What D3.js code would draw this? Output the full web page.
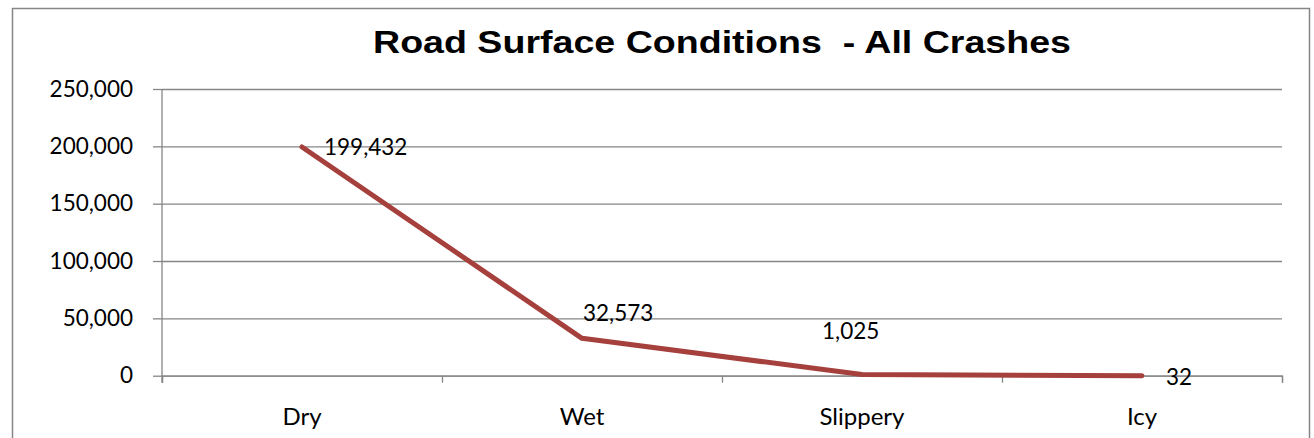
<!DOCTYPE html>
<html>
<head>
<meta charset="utf-8">
<script src="https://cdn.jsdelivr.net/npm/d3@7"></script>
<style>
  html, body { margin: 0; padding: 0; background: #fff; }
  svg { display: block; }
</style>
</head>
<body>
<svg id="chart" width="1314" height="438"></svg>
<script>
const categories = ["Dry", "Wet", "Slippery", "Icy"];
const crashes = [199432, 32573, 1025, 32];
const yTicks = [0, 50000, 100000, 150000, 200000, 250000];
const titleText = "Road Surface Conditions  - All Crashes";

const svg = d3.select("#chart");
const plot = { left: 162, right: 1282, top: 89, bottom: 375.7 };
const gray = "#868686";
const lineColor = "#A5403D";
const labelFont = "Lato, 'Open Sans', sans-serif";

// border
svg.append("rect")
  .attr("x", 12.5).attr("y", 8.5)
  .attr("width", 1297).attr("height", 440)
  .attr("fill", "#fff").attr("stroke", gray).attr("stroke-width", 1.5);

// title
svg.append("text")
  .attr("x", (plot.left + plot.right) / 2).attr("y", 53)
  .attr("text-anchor", "middle")
  .attr("font-family", "'Liberation Sans', Arial, sans-serif")
  .attr("font-weight", "bold").attr("font-size", 32)
  .attr("fill", "#000")
  .attr("textLength", 698).attr("lengthAdjust", "spacingAndGlyphs")
  .style("white-space", "pre")
  .text(titleText);

const x = d3.scaleBand().domain(categories).range([plot.left, plot.right]).padding(0);
const y = d3.scaleLinear().domain([0, 250000]).range([plot.bottom, plot.top]);

// gridlines
const grid = svg.append("g").attr("transform", `translate(${plot.left},0)`)
  .call(d3.axisLeft(y).tickValues(yTicks).tickSize(-(plot.right - plot.left)).tickFormat(""));
grid.select(".domain").remove();
grid.selectAll("line").attr("stroke", gray).attr("stroke-width", 1.3);

// y axis
const yAxis = svg.append("g").attr("transform", `translate(${plot.left},0)`)
  .call(d3.axisLeft(y).tickValues(yTicks).tickSize(9).tickPadding(20).tickFormat(d3.format(",")));
yAxis.select(".domain").remove();
yAxis.selectAll("line").attr("stroke", gray).attr("stroke-width", 1.3);
yAxis.selectAll("text")
  .attr("font-family", labelFont).attr("font-size", 22.5).attr("fill", "#000");
svg.append("line")
  .attr("x1", plot.left).attr("x2", plot.left)
  .attr("y1", plot.top).attr("y2", plot.bottom + 7)
  .attr("stroke", gray).attr("stroke-width", 1.3);

// x axis boundary ticks
const bounds = d3.range(categories.length + 1);
const xb = d3.scaleLinear().domain([0, categories.length]).range([plot.left, plot.right]);
const xAxis = svg.append("g").attr("transform", `translate(0,${plot.bottom})`)
  .call(d3.axisBottom(xb).tickValues(bounds).tickSize(7).tickFormat(""));
xAxis.select(".domain").attr("stroke", gray).attr("stroke-width", 1.3);
xAxis.selectAll("line").attr("stroke", gray).attr("stroke-width", 1.3);

// category labels
svg.append("g").selectAll("text").data(categories).join("text")
  .attr("x", d => x(d) + x.bandwidth() / 2)
  .attr("y", 425)
  .attr("text-anchor", "middle")
  .attr("font-family", labelFont).attr("font-size", 24)
  .attr("fill", "#000")
  .text(d => d);

// line
const pts = categories.map((c, i) => [x(c) + x.bandwidth() / 2, y(crashes[i])]);
svg.append("path")
  .attr("d", d3.line()(pts))
  .attr("fill", "none").attr("stroke", lineColor)
  .attr("stroke-width", 5).attr("stroke-linejoin", "round").attr("stroke-linecap", "round");

// data labels
const labelOffsets = [[22, 0], [1, -25], [-40, -44], [24, 1]];
svg.append("g").selectAll("text").data(categories).join("text")
  .attr("x", (d, i) => pts[i][0] + labelOffsets[i][0])
  .attr("y", (d, i) => pts[i][1] + labelOffsets[i][1])
  .attr("dy", "0.36em")
  .attr("text-anchor", "start")
  .attr("font-family", labelFont).attr("font-size", 22.5)
  .attr("fill", "#000")
  .text((d, i) => d3.format(",")(crashes[i]));
</script>
</body>
</html>
